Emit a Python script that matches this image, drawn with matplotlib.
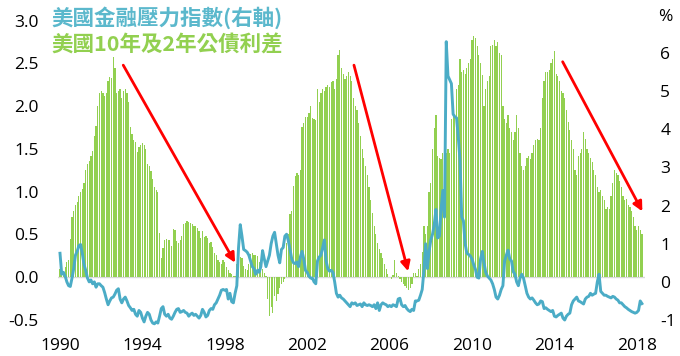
import numpy as np
import matplotlib
matplotlib.use("Agg")
import matplotlib.pyplot as plt

plt.rcParams['font.family'] = ['Noto Sans CJK TC', 'DejaVu Sans']

# ---------------- data (monthly, Jan 1990 - Apr 2018) ----------------
start_year = 1990
spread = [  # US 10y - 2y Treasury spread (%), left axis
    # 1990
    0.10, 0.08, 0.05, 0.12, 0.18, 0.20, 0.45, 0.70, 0.78, 0.85, 0.88, 0.95,
    # 1991
    1.00, 1.03, 1.10, 1.25, 1.32, 1.36, 1.42, 1.48, 1.65, 1.77, 2.00, 2.15,
    # 1992
    2.18, 2.15, 2.12, 2.16, 2.30, 2.34, 2.33, 2.57, 2.45, 2.16, 2.18, 2.20,
    # 1993
    2.10, 2.18, 2.20, 2.15, 2.05, 1.76, 1.68, 1.60, 1.58, 1.46, 1.52, 1.55,
    # 1994
    1.57, 1.55, 1.50, 1.32, 1.30, 1.24, 1.15, 1.05, 1.02, 1.00, 0.52, 0.23,
    # 1995
    0.34, 0.44, 0.45, 0.44, 0.43, 0.36, 0.56, 0.55, 0.42, 0.40, 0.44, 0.48,
    # 1996
    0.62, 0.64, 0.66, 0.65, 0.64, 0.62, 0.60, 0.60, 0.58, 0.54, 0.46, 0.54,
    # 1997
    0.47, 0.48, 0.46, 0.40, 0.41, 0.35, 0.28, 0.26, 0.20, 0.18, 0.15, 0.20,
    # 1998
    0.18, 0.12, 0.08, 0.05, 0.04, 0.02, 0.01, 0.15, 0.25, 0.24, 0.22, 0.13,
    # 1999
    0.10, 0.09, 0.15, 0.27, 0.28, 0.26, 0.26, 0.25, 0.18, 0.15, 0.10, 0.05,
    # 2000
    0.02, -0.25, -0.45, -0.35, -0.42, -0.22, -0.28, -0.20, -0.12, -0.08, -0.05, -0.02,
    # 2001
    0.40, 0.50, 0.74, 0.78, 1.07, 1.18, 1.22, 1.20, 1.25, 1.76, 1.80, 1.87,
    # 2002
    1.87, 1.92, 2.00, 1.86, 1.85, 1.84, 2.20, 2.05, 2.15, 2.20, 2.18, 2.22,
    # 2003
    2.25, 2.22, 2.28, 2.30, 2.20, 2.32, 2.60, 2.66, 2.45, 2.38, 2.32, 2.35,
    # 2004
    2.40, 2.35, 2.30, 2.10, 2.00, 1.95, 1.80, 1.65, 1.50, 1.40, 1.30, 1.20,
    # 2005
    1.05, 0.90, 0.75, 0.60, 0.50, 0.40, 0.33, 0.28, 0.22, 0.15, 0.10, 0.04,
    # 2006
    0.00, -0.02, 0.03, 0.20, 0.05, 0.02, -0.02, -0.05, -0.08, -0.10, -0.12, -0.15,
    # 2007
    -0.12, -0.08, 0.05, 0.05, 0.02, 0.10, 0.15, 0.30, 0.60, 0.50, 0.60, 1.00,
    # 2008
    1.10, 1.50, 1.75, 1.90, 1.42, 1.40, 1.38, 1.45, 1.47, 1.45, 1.50, 1.45,
    # 2009
    1.85, 2.00, 1.90, 2.20, 2.25, 2.55, 2.40, 2.42, 2.38, 2.45, 2.50, 2.55,
    # 2010
    2.78, 2.82, 2.80, 2.70, 2.60, 2.50, 2.36, 2.00, 2.20, 2.30, 2.35, 2.70,
    # 2011
    2.72, 2.78, 2.70, 2.75, 2.62, 2.60, 2.00, 1.85, 1.80, 1.90, 1.75, 1.70,
    # 2012
    1.60, 1.70, 1.90, 1.75, 1.45, 1.30, 1.25, 1.30, 1.40, 1.42, 1.38, 1.45,
    # 2013
    1.55, 1.60, 1.62, 1.60, 1.75, 2.10, 2.30, 2.40, 2.40, 2.42, 2.50, 2.55,
    # 2014
    2.65, 2.38, 2.35, 2.30, 2.18, 2.15, 2.10, 1.95, 1.82, 1.72, 1.60, 1.50,
    # 2015
    1.25, 1.20, 1.42, 1.45, 1.50, 1.70, 1.62, 1.50, 1.45, 1.40, 1.35, 1.25,
    # 2016
    1.20, 1.05, 1.00, 1.02, 0.95, 0.90, 0.80, 0.82, 0.80, 0.95, 1.10, 1.25,
    # 2017
    1.22, 1.20, 1.12, 1.05, 0.95, 0.90, 0.92, 0.85, 0.82, 0.78, 0.70, 0.60,
    # 2018
    0.55, 0.60, 0.55, 0.50,
]
stress = [  # US financial stress index, right axis
    # 1990
    0.75, 0.20, 0.25, 0.15, 0.00, -0.10, -0.12, 0.10, 0.35, 0.70, 0.80, 0.95,
    # 1991
    0.98, 0.75, 0.45, 0.30, 0.10, 0.00, 0.05, -0.05, 0.00, -0.14, -0.05, -0.05,
    # 1992
    -0.10, -0.14, -0.28, -0.45, -0.60, -0.50, -0.42, -0.40, -0.32, -0.22, -0.18, -0.45,
    # 1993
    -0.55, -0.45, -0.40, -0.50, -0.62, -0.68, -0.75, -0.72, -0.85, -0.90, -0.75, -0.80,
    # 1994
    -0.95, -1.05, -0.90, -0.80, -0.85, -1.00, -1.08, -1.10, -1.05, -1.08, -0.90, -0.70,
    # 1995
    -0.65, -0.85, -0.90, -0.85, -0.95, -0.98, -0.90, -0.80, -0.72, -0.70, -0.80, -0.78,
    # 1996
    -0.75, -0.80, -0.82, -0.90, -0.85, -0.82, -0.88, -0.85, -0.90, -0.95, -0.88, -0.72,
    # 1997
    -0.80, -0.92, -0.88, -0.75, -0.70, -0.72, -0.60, -0.55, -0.45, -0.35, -0.22, -0.20,
    # 1998
    -0.22, -0.20, -0.45, -0.30, -0.52, -0.55, -0.30, -0.10, 0.90, 1.50, 1.20, 0.85,
    # 1999
    0.82, 0.78, 0.70, 0.55, 0.40, 0.35, 0.20, 0.30, 0.25, 0.40, 0.82, 0.60,
    # 2000
    0.40, 0.55, 0.70, 1.00, 1.20, 1.30, 1.00, 0.70, 0.50, 0.85, 0.90, 1.20,
    # 2001
    1.25, 1.08, 0.85, 0.60, 0.50, 0.48, 0.52, 0.40, 0.65, 0.80, 0.60, 0.30,
    # 2002
    0.25, 0.15, 0.10, 0.10, 0.00, -0.05, 0.55, 0.65, 0.70, 0.90, 1.10, 0.55,
    # 2003
    0.35, 0.28, 0.30, 0.25, 0.00, -0.30, -0.40, -0.35, -0.42, -0.45, -0.50, -0.55,
    # 2004
    -0.60, -0.65, -0.55, -0.58, -0.55, -0.62, -0.60, -0.58, -0.65, -0.55, -0.60, -0.62,
    # 2005
    -0.60, -0.62, -0.65, -0.60, -0.70, -0.55, -0.75, -0.60, -0.55, -0.58, -0.60, -0.65,
    # 2006
    -0.62, -0.65, -0.60, -0.62, -0.65, -0.45, -0.43, -0.60, -0.65, -0.62, -0.70, -0.75,
    # 2007
    -0.78, -0.72, -0.75, -0.50, -0.50, -0.48, -0.35, -0.20, 0.30, 1.00, 0.35, 0.80,
    # 2008
    1.10, 1.25, 1.50, 1.90, 1.15, 1.20, 1.90, 2.40, 1.70, 6.30, 5.40, 5.30,
    # 2009
    5.20, 4.40, 4.33, 4.30, 3.80, 3.20, 1.70, 1.60, 1.00, 0.75, 0.72, 0.68,
    # 2010
    0.60, 0.45, 0.33, 0.12, 0.10, 0.60, 0.80, 0.50, 0.25, 0.15, 0.10, 0.05,
    # 2011
    -0.05, -0.20, -0.40, -0.45, -0.35, -0.20, -0.10, 0.55, 0.70, 0.83, 0.60, 0.55,
    # 2012
    0.27, 0.20, 0.00, -0.10, 0.10, 0.20, 0.10, -0.10, -0.30, -0.40, -0.45, -0.42,
    # 2013
    -0.48, -0.55, -0.60, -0.58, -0.50, -0.52, -0.70, -0.68, -0.72, -0.75, -0.78, -0.75,
    # 2014
    -0.90, -0.92, -0.88, -0.85, -0.82, -0.95, -1.00, -0.90, -0.85, -0.82, -0.60, -0.50,
    # 2015
    -0.45, -0.40, -0.50, -0.52, -0.55, -0.58, -0.45, -0.40, -0.38, -0.30, -0.35, -0.32,
    # 2016
    -0.30, 0.00, 0.20, -0.25, -0.30, -0.35, -0.35, -0.38, -0.40, -0.42, -0.38, -0.40,
    # 2017
    -0.45, -0.48, -0.55, -0.55, -0.60, -0.65, -0.68, -0.72, -0.75, -0.78, -0.80, -0.82,
    # 2018
    -0.80, -0.75, -0.50, -0.57,
]
x_ticks = [1990, 1994, 1998, 2002, 2006, 2010, 2014, 2018]
left_ticks = [-0.5, 0.0, 0.5, 1.0, 1.5, 2.0, 2.5, 3.0]
right_ticks = [-1, 0, 1, 2, 3, 4, 5, 6]
label_stress = "美國金融壓力指數(右軸)"
label_spread = "美國10年及2年公債利差"
# arrows: (start year, start value, end year, end value) in left-axis units
arrows = [
    (1993.07, 2.48, 1998.5, 0.17),
    (2004.27, 2.48, 2006.9, 0.07),
    (2014.40, 2.52, 2018.27, 0.77),
]

# ---------------- figure ----------------
W, H = 680, 356
fig = plt.figure(figsize=(W / 100, H / 100), dpi=100)

px_left, px_right = 58.0, 645.0
px_top, px_bottom = 20.7, 320.0
ax = fig.add_axes([px_left / W, 1 - px_bottom / H,
                   (px_right - px_left) / W, (px_bottom - px_top) / H])
x0_px, px_per_year = 60.0, 20.6

t = start_year + np.arange(len(spread)) / 12.0
t2 = start_year + np.arange(len(stress)) / 12.0

green = "#92D050"
teal = "#4BACC6"

ax.bar(t, spread, width=0.7 / 12, color=green, linewidth=0, zorder=2)
ax.axhline(0, color="#d9d9d9", lw=1.0, zorder=1)
ax.set_xlim(start_year - (x0_px - px_left) / px_per_year,
            start_year + (px_right - x0_px) / px_per_year)
ax.set_ylim(-0.5, 3.0)

ax2 = ax.twinx()
ax2.plot(t2, stress, color=teal, lw=2.1, zorder=3, clip_on=False,
         solid_joinstyle="round")
ax2.set_ylim(-1.0, 6.85)

tick_font = ["Open Sans", "DejaVu Sans"]
for a in (ax, ax2):
    for s in a.spines.values():
        s.set_visible(False)
    a.tick_params(length=0, labelsize=12.5, colors="black")

ax.set_xticks(x_ticks)
ax.set_xticklabels([str(v) for v in x_ticks])
ax.tick_params(axis="x", pad=13)
ax.set_yticks(left_ticks)
ax.set_yticklabels([f"{v:.1f}" for v in left_ticks])
ax.tick_params(axis="y", pad=14)
ax2.set_yticks(right_ticks)
ax2.set_yticklabels([str(v) for v in right_ticks])
ax2.tick_params(axis="y", pad=11)
for lab in ax.get_xticklabels() + ax.get_yticklabels() + ax2.get_yticklabels():
    lab.set_family(tick_font)

fig.text(658 / W, 1 - 17.3 / H, "%", ha="left", va="center", fontsize=12.5,
         family=tick_font)

# legend texts
fig.text(51 / W, 1 - 18 / H, label_stress, color="#5BB8CC", fontsize=15.5,
         fontweight="bold", ha="left", va="center")
fig.text(51 / W, 1 - 45 / H, label_spread, color=green, fontsize=15.5,
         fontweight="bold", ha="left", va="center")

# red arrows
for (xs, ys, xe, ye) in arrows:
    ax2.annotate("", xy=(xe, ye), xytext=(xs, ys),
                 xycoords=ax.transData, textcoords=ax.transData,
                 arrowprops=dict(arrowstyle="-|>", color="#FF0000", lw=2.0,
                                 mutation_scale=14, shrinkA=0, shrinkB=0),
                 zorder=5)

fig.savefig("out.png", dpi=100)
